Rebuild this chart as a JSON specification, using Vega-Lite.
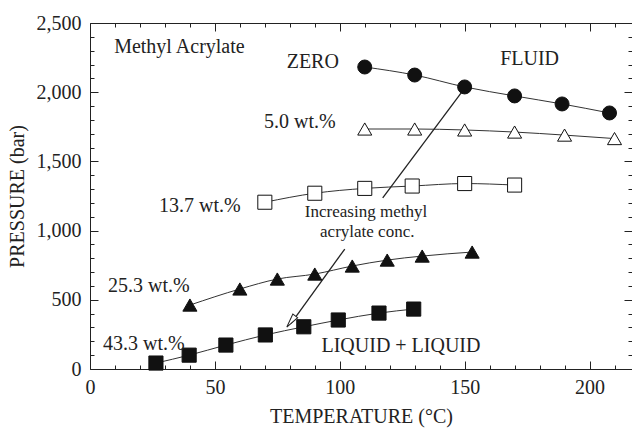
{
  "$schema": "https://vega.github.io/schema/vega-lite/v6.json",
  "width": 542,
  "height": 346,
  "autosize": {"type": "none"},
  "padding": {"left": 90, "top": 23, "right": 0, "bottom": 60},
  "background": "white",
  "config": {
    "font": "Liberation Serif",
    "view": {"stroke": null},
    "axis": {
      "domainColor": "#222",
      "tickColor": "#222",
      "labelColor": "#222",
      "titleColor": "#222",
      "labelFontSize": 20,
      "titleFontSize": 20,
      "titleFontWeight": "normal",
      "labelFont": "Liberation Serif",
      "titleFont": "Liberation Serif",
      "labelOverlap": false,
      "labelBound": false,
      "labelFlush": false,
      "grid": false,
      "tickWidth": 1,
      "domainWidth": 1
    }
  },
  "datasets": {
    "pts": [
      {"s": "zero", "t": 110, "p": 2182},
      {"s": "zero", "t": 130, "p": 2124},
      {"s": "zero", "t": 150, "p": 2038},
      {"s": "zero", "t": 170, "p": 1973},
      {"s": "zero", "t": 189, "p": 1915},
      {"s": "zero", "t": 208, "p": 1850},
      {"s": "5.0", "t": 110, "p": 1734},
      {"s": "5.0", "t": 130, "p": 1734},
      {"s": "5.0", "t": 150, "p": 1727},
      {"s": "5.0", "t": 170, "p": 1712},
      {"s": "5.0", "t": 190, "p": 1690},
      {"s": "5.0", "t": 210, "p": 1665},
      {"s": "13.7", "t": 70, "p": 1205},
      {"s": "13.7", "t": 90, "p": 1270},
      {"s": "13.7", "t": 110, "p": 1305},
      {"s": "13.7", "t": 129, "p": 1322},
      {"s": "13.7", "t": 150, "p": 1340},
      {"s": "13.7", "t": 170, "p": 1329},
      {"s": "25.3", "t": 40, "p": 462},
      {"s": "25.3", "t": 60, "p": 578},
      {"s": "25.3", "t": 75, "p": 650},
      {"s": "25.3", "t": 90, "p": 686},
      {"s": "25.3", "t": 105, "p": 744},
      {"s": "25.3", "t": 119, "p": 787},
      {"s": "25.3", "t": 133, "p": 816},
      {"s": "25.3", "t": 153, "p": 845},
      {"s": "43.3", "t": 26.4, "p": 43},
      {"s": "43.3", "t": 39.7, "p": 100},
      {"s": "43.3", "t": 54.4, "p": 173},
      {"s": "43.3", "t": 70.2, "p": 246},
      {"s": "43.3", "t": 85.6, "p": 305},
      {"s": "43.3", "t": 99.4, "p": 354},
      {"s": "43.3", "t": 115.7, "p": 404},
      {"s": "43.3", "t": 129.6, "p": 433}
    ],
    "notes": [
      {"label": "Methyl Acrylate", "t": 35.8, "p": 2283, "sz": 20},
      {"label": "ZERO", "t": 89.2, "p": 2175, "sz": 20},
      {"label": "FLUID", "t": 176, "p": 2197, "sz": 20},
      {"label": "5.0 wt.%", "t": 84, "p": 1741, "sz": 20},
      {"label": "13.7 wt.%", "t": 44, "p": 1134, "sz": 20},
      {"label": "25.3 wt.%", "t": 23.6, "p": 556, "sz": 20},
      {"label": "43.3 wt.%", "t": 21.6, "p": 137, "sz": 20},
      {"label": "LIQUID + LIQUID", "t": 124.5, "p": 123, "sz": 20},
      {"label": "Increasing  methyl", "t": 110.5, "p": 1098, "sz": 17},
      {"label": "acrylate conc.", "t": 111, "p": 954, "sz": 17}
    ],
    "arrow": [
      {"t": 150.4, "p": 2038, "t2": 117.2, "p2": 1236},
      {"t": 102, "p": 867, "t2": 80.5, "p2": 330}
    ],
    "tip": [
      {"t": 78.8, "p": 303}
    ]
  },
  "layer": [
    {
      "layer": [
        {
          "data": {"name": "pts"},
          "mark": {"type": "line", "interpolate": "monotone", "color": "#333", "strokeWidth": 1},
          "encoding": {
            "x": {
              "field": "t", "type": "quantitative",
              "scale": {"domain": [0, 217], "nice": false, "zero": false},
              "axis": {
                "orient": "bottom",
                "title": "TEMPERATURE (°C)",
                "titlePadding": 9,
                "values": [0, 50, 100, 150, 200],
                "format": "d",
                "labelOverlap": false,
                "tickSize": -8,
                "labelPadding": 16
              }
            },
            "y": {
              "field": "p", "type": "quantitative",
              "scale": {"domain": [0, 2500], "nice": false, "zero": false},
              "axis": {
                "orient": "left",
                "title": "PRESSURE (bar)",
                "titlePadding": 9,
                "values": [0, 500, 1000, 1500, 2000, 2500],
                "format": ",d",
                "labelOverlap": false,
                "tickSize": -8,
                "labelPadding": 17
              }
            },
            "detail": {"field": "s"}
          }
        },
        {
          "data": {"name": "arrow"},
          "mark": {"type": "rule", "color": "#222", "strokeWidth": 1.3},
          "encoding": {
            "x": {"field": "t", "type": "quantitative"},
            "y": {"field": "p", "type": "quantitative"},
            "x2": {"field": "t2"},
            "y2": {"field": "p2"}
          }
        },
        {
          "data": {"name": "pts"},
          "mark": {"type": "point", "filled": true, "stroke": "#111", "strokeWidth": 1, "opacity": 1},
          "encoding": {
            "x": {"field": "t", "type": "quantitative"},
            "y": {"field": "p", "type": "quantitative"},
            "shape": {
              "field": "s", "type": "nominal", "legend": null,
              "scale": {"domain": ["zero", "5.0", "13.7", "25.3", "43.3"], "range": ["circle", "triangle-up", "square", "triangle-up", "square"]}
            },
            "fill": {
              "field": "s", "type": "nominal", "legend": null,
              "scale": {"domain": ["zero", "5.0", "13.7", "25.3", "43.3"], "range": ["#111", "white", "white", "#111", "#111"]}
            },
            "size": {
              "field": "s", "type": "nominal", "legend": null,
              "scale": {"domain": ["zero", "5.0", "13.7", "25.3", "43.3"], "range": [196, 200, 150, 190, 150]}
            }
          }
        },
        {
          "data": {"name": "tip"},
          "mark": {"type": "point", "shape": "M0,0L0.6,2.8L-0.6,2.8Z", "size": 100, "angle": 217, "filled": true, "fill": "white", "stroke": "#222", "strokeWidth": 1, "opacity": 1},
          "encoding": {
            "x": {"field": "t", "type": "quantitative"},
            "y": {"field": "p", "type": "quantitative"}
          }
        },
        {
          "data": {"name": "notes"},
          "mark": {"type": "text", "baseline": "alphabetic", "align": "center", "color": "#222", "font": "Liberation Serif"},
          "encoding": {
            "x": {"field": "t", "type": "quantitative"},
            "y": {"field": "p", "type": "quantitative"},
            "text": {"field": "label"},
            "size": {"field": "sz", "type": "quantitative", "scale": null}
          }
        }
      ]
    },
    {
      "data": {"name": "tip"},
      "mark": {"type": "point", "opacity": 0},
      "encoding": {
        "x": {
          "field": "t", "type": "quantitative",
          "axis": {
            "orient": "bottom", "title": null, "labels": false, "domain": false,
            "values": [10,20,30,40,60,70,80,90,110,120,130,140,160,170,180,190,210],
            "tickSize": -4
          }
        },
        "y": {
          "field": "p", "type": "quantitative",
          "axis": {
            "orient": "left", "title": null, "labels": false, "domain": false,
            "values": [100,200,300,400,600,700,800,900,1100,1200,1300,1400,1600,1700,1800,1900,2100,2200,2300,2400],
            "tickSize": -4
          }
        }
      }
    },
    {
      "data": {"name": "tip"},
      "mark": {"type": "point", "opacity": 0},
      "encoding": {
        "x": {
          "field": "t", "type": "quantitative",
          "axis": {
            "orient": "top", "title": null, "labels": false,
            "values": [0, 50, 100, 150, 200],
            "tickSize": -8
          }
        },
        "y": {
          "field": "p", "type": "quantitative",
          "axis": {
            "orient": "right", "title": null, "labels": false,
            "values": [0, 500, 1000, 1500, 2000, 2500],
            "tickSize": -8
          }
        }
      }
    },
    {
      "data": {"name": "tip"},
      "mark": {"type": "point", "opacity": 0},
      "encoding": {
        "x": {
          "field": "t", "type": "quantitative",
          "axis": {
            "orient": "top", "title": null, "labels": false, "domain": false,
            "values": [10,20,30,40,60,70,80,90,110,120,130,140,160,170,180,190,210],
            "tickSize": -4
          }
        },
        "y": {
          "field": "p", "type": "quantitative",
          "axis": {
            "orient": "right", "title": null, "labels": false, "domain": false,
            "values": [100,200,300,400,600,700,800,900,1100,1200,1300,1400,1600,1700,1800,1900,2100,2200,2300,2400],
            "tickSize": -4
          }
        }
      }
    }
  ],
  "resolve": {"axis": {"x": "independent", "y": "independent"}}
}
